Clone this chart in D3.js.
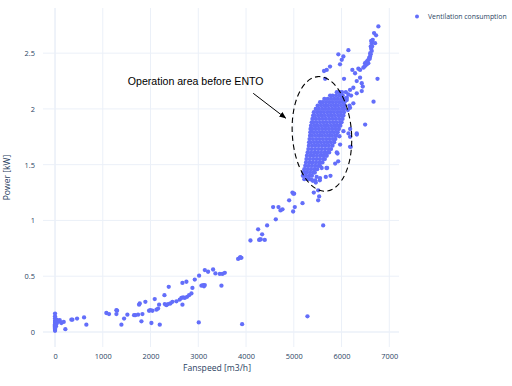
<!DOCTYPE html>
<html><head><meta charset="utf-8">
<script src="https://cdn.jsdelivr.net/npm/d3@7"></script>
<style>body{margin:0;background:#fff}svg{display:block}</style>
</head><body><svg id="c" width="512" height="386"></svg>
<script>
// ---- data ----
const seriesName = "Ventilation consumption";
const xTicks = [0,1000,2000,3000,4000,5000,6000,7000];
const yTicks = [0,0.5,1,1.5,2,2.5];
const xTitle = "Fanspeed [m3/h]";
const yTitle = "Power [kW]";
const annotationText = "Operation area before ENTO";

// scattered points [fanspeed, power]
const scatterPts = [
 [0,0.01],[0,0.02],[0,0.03],[0,0.04],[0,0.05],[0,0.06],[0,0.07],[0,0.08],[0,0.09],[0,0.10],[0,0.12],[0,0.14],[0,0.165],
 [20,0.05],[25,0.07],[30,0.09],[35,0.11],[63,0.09],[98,0.105],[133,0.08],[182,0.09],[216,0.025],[342,0.11],[363,0.11],[461,0.12],[608,0.13],[656,0.065],
 [1075,0.17],[1131,0.16],[1285,0.195],[1299,0.19],[1285,0.16],[1390,0.065],[1446,0.12],[1515,0.155],[1655,0.15],[1680,0.15],[1739,0.155],
 [1760,0.245],[1774,0.255],[1809,0.095],[1830,0.16],[1892,0.27],[1969,0.19],[1997,0.195],[2018,0.08],[2039,0.19],[2088,0.295],[2123,0.2],
 [2158,0.21],[2179,0.245],[2193,0.065],[2291,0.33],[2298,0.25],[2332,0.24],[2367,0.25],[2381,0.405],[2416,0.255],[2458,0.27],[2542,0.275],
 [2612,0.29],[2647,0.305],[2668,0.245],[2668,0.44],[2682,0.31],[2717,0.305],[2751,0.45],[2765,0.315],[2807,0.33],[2856,0.345],[2877,0.395],
 [2926,0.47],[3010,0.085],[3017,0.505],[3066,0.415],[3101,0.42],[3136,0.42],[3120,0.41],[3136,0.555],[3205,0.54],[3310,0.56],[3359,0.525],
 [3450,0.52],[3485,0.415],[3506,0.52],[3555,0.53],[3834,0.655],[3869,0.665],[3903,0.665],[3880,0.67],[3918,0.07],[4092,0.82],[4253,0.92],
 [4274,0.825],[4309,0.83],[4290,0.83],[4337,0.875],[4392,0.825],[4441,0.955],[4567,1.12],[4623,1.01],[4679,1.12],[4721,1.09],[4763,1.1],
 [4902,1.18],[4972,1.25],[4990,1.24],[4986,1.08],[5007,1.24],[5021,1.12],[5182,1.155],[5286,0.14],[5419,1.25],[5461,1.34],[5510,1.18],
 [5531,1.215],[5615,0.955],[5510,1.27],[5447,1.36],[5398,1.355],[5545,1.36],[5670,1.39],[5768,1.40],[5684,1.47],[5866,1.51],[5915,1.6],
 [5970,1.68],[5956,1.755],[6040,1.8],[6145,1.78],[6180,1.82],[6194,1.66],[6320,1.77],[6494,1.86],[6670,2.065],[6753,2.27],
 [5375,1.364],[5479,1.39],[5549,1.38],[5584,1.47],[5698,1.47],[5899,1.61],[5930,1.53],[6178,1.75],[6178,1.66],[6318,1.78],
 [5633,2.34],[5689,2.35],[5759,2.38],[5656,2.27],[5933,2.49],[6004,2.44],[6038,2.47],[6143,2.527],[5968,2.40],[6052,2.27],
 [6226,2.35],[6283,2.32],[6352,2.36],[6388,2.28],[6318,2.25],[6423,2.23],[6247,2.19],[6178,2.17],[6143,2.13],[6200,2.12],
 [6109,2.08],[6318,2.14],[6423,2.16],[6444,2.20],[6247,2.05],[6178,2.01],[6131,1.99],[6166,2.03],[6110,2.10],[6090,2.15],
 [6388,2.35],[6457,2.37],[6480,2.38],[6492,2.41],[6520,2.42],[6540,2.43],[6562,2.44],[6580,2.46],[6597,2.47],[6610,2.49],
 [6632,2.52],[6620,2.54],[6612,2.56],[6632,2.59],[6653,2.62],[6640,2.61],[6620,2.61],[6702,2.59],[6681,2.68],[6723,2.66],[6771,2.74],
 [6500,2.39],[6530,2.40],[6560,2.41],[6590,2.45],[6600,2.50],[6640,2.56]
];

// dense operation cluster: rows of [power, fanspeed...]
const clusterRows = [
 [1.37,5220,5290,5330],
 [1.40,5190,5255,5325,5380],
 [1.43,5200,5270,5340,5410,5440],
 [1.46,5220,5290,5360,5430,5490],
 [1.49,5240,5310,5380,5450,5520,5550],
 [1.52,5255,5325,5395,5465,5535,5600],
 [1.55,5265,5335,5405,5475,5545,5615,5650],
 [1.58,5275,5345,5415,5485,5555,5625,5690],
 [1.61,5290,5360,5430,5500,5570,5640,5710,5740],
 [1.64,5305,5375,5445,5515,5585,5655,5725,5780],
 [1.67,5315,5385,5455,5525,5595,5665,5735,5810],
 [1.70,5320,5355,5425,5495,5565,5635,5705,5775,5845],
 [1.73,5330,5400,5470,5540,5610,5680,5750,5820,5870],
 [1.76,5340,5375,5445,5515,5585,5655,5725,5795,5865,5895],
 [1.79,5345,5415,5485,5555,5625,5695,5765,5835,5905,5920],
 [1.82,5350,5385,5455,5525,5595,5665,5735,5805,5875,5945],
 [1.85,5360,5430,5500,5570,5640,5710,5780,5850,5920,5975],
 [1.88,5375,5410,5480,5550,5620,5690,5760,5830,5900,5970,6000],
 [1.91,5390,5460,5530,5600,5670,5740,5810,5880,5950,6020],
 [1.94,5405,5440,5510,5580,5650,5720,5790,5860,5930,6000,6040],
 [1.97,5420,5490,5560,5630,5700,5770,5840,5910,5980,6050],
 [2.00,5460,5525,5595,5665,5735,5805,5875,5945,6015,6060],
 [2.03,5500,5570,5640,5710,5780,5850,5920,5990,6060],
 [2.06,5550,5605,5675,5745,5815,5885,5955,6025,6060],
 [2.09,5640,5710,5780,5850,5920,5990,6050],
 [2.12,5760,5815,5885,5955,6025],
 [2.15,5900,5960,6010]
];

// annotation geometry in data units
const ellipseCenter = [5589, 1.776];
const ellipseRadiiData = [620, 0.515];
const arrowFrom = [4150, 2.14];
const arrowTo = [4830, 1.917];
const labelAt = [1523, 2.215];

// ---- chart ----
const svg = d3.select("#c");
const L = 43, R = 399, T = 8, B = 347;
const x = d3.scaleLinear().domain([-252, 7203]).range([L, R]);
const y = d3.scaleLinear().domain([-0.135, 2.905]).range([B, T]);
const tickColor = "#2a3f5f";
const gridColor = "#ebf0f8";
const markerColor = "#636efa";
const font = "'Open Sans', 'Noto Sans', sans-serif";

// grid
svg.append("g").selectAll("line.vx").data(xTicks).join("line")
  .attr("x1", d => x(d)).attr("x2", d => x(d)).attr("y1", T).attr("y2", B)
  .attr("stroke", gridColor).attr("stroke-width", d => d === 0 ? 1.6 : 1);
svg.append("g").selectAll("line.hy").data(yTicks).join("line")
  .attr("y1", d => y(d)).attr("y2", d => y(d)).attr("x1", L).attr("x2", R)
  .attr("stroke", gridColor).attr("stroke-width", d => d === 0 ? 1.6 : 1);

// axes via d3 axis (no domain / tick lines)
const xAxis = svg.append("g").attr("transform", `translate(0,${B})`)
  .call(d3.axisBottom(x).tickValues(xTicks).tickSize(0).tickPadding(7).tickFormat(d3.format("d")));
const yAxis = svg.append("g").attr("transform", `translate(${L},0)`)
  .call(d3.axisLeft(y).tickValues(yTicks).tickSize(0).tickPadding(8).tickFormat(d => String(d)));
[xAxis, yAxis].forEach(g => {
  g.select(".domain").remove();
  g.selectAll("text").attr("fill", tickColor).style("font-family", font).style("font-size", "7.4px");
});

// titles
svg.append("text").attr("x", 217).attr("y", 371)
  .attr("text-anchor", "middle").attr("fill", tickColor)
  .style("font-family", font).style("font-size", "8.6px").text(xTitle);
svg.append("text").attr("transform", `translate(10,${(T + B) / 2}) rotate(-90)`)
  .attr("text-anchor", "middle").attr("fill", tickColor)
  .style("font-family", font).style("font-size", "8.6px").text(yTitle);

// points
const pts = scatterPts.slice();
clusterRows.forEach(r => r.slice(1).forEach(v => pts.push([v, r[0]])));
svg.append("g").selectAll("circle").data(pts).join("circle")
  .attr("cx", d => x(d[0])).attr("cy", d => y(d[1])).attr("r", 2.15)
  .attr("fill", markerColor);

// legend
svg.append("circle").attr("cx", 417).attr("cy", 16.5).attr("r", 2).attr("fill", markerColor);
svg.append("text").attr("x", 428).attr("y", 19.2).attr("fill", tickColor)
  .style("font-family", font).style("font-size", "6.9px").text(seriesName);

// annotation: ellipse, arrow, label
const ecx = x(ellipseCenter[0]), ecy = y(ellipseCenter[1]);
svg.append("ellipse").attr("cx", 0).attr("cy", 0)
  .attr("rx", x(ellipseCenter[0] + ellipseRadiiData[0]) - ecx)
  .attr("ry", ecy - y(ellipseCenter[1] + ellipseRadiiData[1]))
  .attr("transform", `translate(${ecx},${ecy}) rotate(-4)`)
  .attr("fill", "none").attr("stroke", "#000").attr("stroke-width", 1.1)
  .attr("stroke-dasharray", "5.5,3.5");

svg.append("defs").append("marker").attr("id", "ah").attr("viewBox", "0 0 10 10")
  .attr("refX", 9).attr("refY", 5).attr("markerWidth", 7).attr("markerHeight", 7)
  .attr("orient", "auto").append("path").attr("d", "M0,1 L10,5 L0,9 Z").attr("fill", "#000");
svg.append("line").attr("x1", x(arrowFrom[0])).attr("y1", y(arrowFrom[1]))
  .attr("x2", x(arrowTo[0])).attr("y2", y(arrowTo[1]))
  .attr("stroke", "#000").attr("stroke-width", 1).attr("marker-end", "url(#ah)");

svg.append("text").attr("x", x(labelAt[0])).attr("y", y(labelAt[1]))
  .attr("fill", "#000").style("font-family", "'Liberation Sans', Arial, sans-serif")
  .style("font-size", "10.6px").text(annotationText);
</script></body></html>
